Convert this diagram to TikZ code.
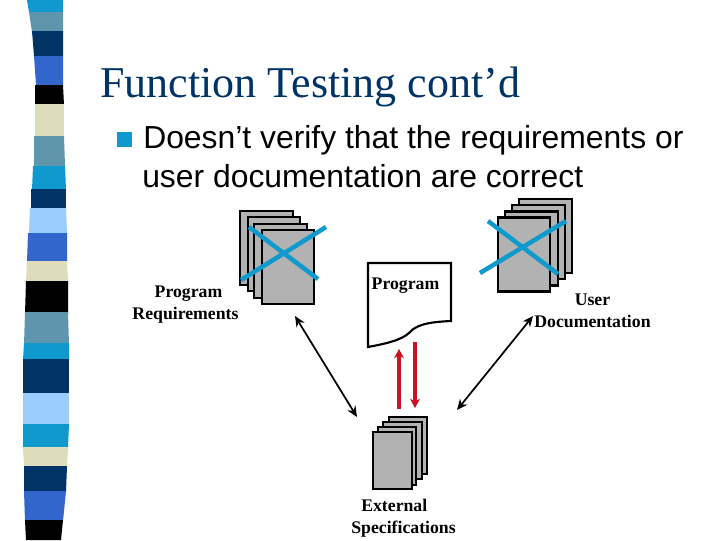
\documentclass[tikz,border=0pt]{standalone}
\usepackage{fontspec}
\setmainfont{Liberation Serif}
\newfontfamily\bodyfont{Liberation Sans}
\usetikzlibrary{arrows.meta,positioning,calc}
\definecolor{Navy}{HTML}{003366}
\definecolor{Cyan}{HTML}{0F99CC}
\definecolor{Steel}{HTML}{5F96AE}
\definecolor{Royal}{HTML}{3366CC}
\definecolor{Sky}{HTML}{99CCFF}
\definecolor{Beige}{HTML}{DDDDBB}
\definecolor{Paper}{HTML}{B2B2B2}
\definecolor{Alert}{HTML}{CC1122}
\tikzset{slide layout/.style={%
    x=0.75pt,
    y=-0.75pt,
    sheet/.style={%
        draw=black, fill=Paper, line width=1.6pt, inner sep=0pt,
        minimum width=39.5pt, minimum height=55.5pt
    },
    small sheet/.style={%
        sheet, minimum width=29pt, minimum height=43pt
    },
    crossbar/.style={%
        Cyan, line width=3.4pt
    },
    link/.style={%
        black, line width=1.3pt, {Stealth[width=7pt,length=8pt]}-{Stealth[width=7pt,length=8pt]}
    },
    check/.style={%
        Alert, line width=2.6pt, -{Stealth[width=7.5pt,length=7pt]}
    },
    caption/.style={%
        font=\bfseries\fontsize{13.3}{16.5}\selectfont, align=center, inner sep=0pt
    },
    bodyline/.style={%
        font=\bodyfont\fontsize{23.9}{28}\selectfont, anchor=base west, inner sep=0pt
    }
}}
\begin{document}
\begin{tikzpicture}[slide layout]
    \useasboundingbox (0,0) rectangle (720,540);

    % binding strip down the left edge
    \foreach \ya/\la/\ra/\yb/\lb/\rb/\shade in {%
        0/27/63/12/29/63/Cyan, 12/29/63/32/32/63/Steel, 31/32/63/56/34/63/Navy,
        56/34/63/85/36/63/Royal, 85/35/63/105/35/64/black, 104/35/64/137/35/64/Beige,
        136/34/64/166/34/65/Steel, 166/33/65/190/32/66/Cyan, 189/31/66/209/31/66/Navy,
        208/30/66/234/29/67/Sky, 233/28/67/262/27/67/Royal, 261/27/67/282/26/68/Beige,
        281/26/68/314/25/68/black, 312/25/68/345/24/69/Steel, 343/24/69/360/23/69/Cyan,
        359/23/69/396/23/69/Navy, 393/23/69/426/23/69/Sky, 424/23/69/448/23/68/Cyan,
        447/23/68/467/24/67/Beige, 466/24/67/492/24/66/Navy, 491/24/66/521/25/63/Royal,
        520/25/63/540/26/61/black} {
        \fill[\shade] (\la,\ya) -- (\ra,\ya) -- (\rb,\yb) -- (\lb,\yb) -- cycle;
    }

    \node (title) [anchor=base west, inner sep=0pt, text=Navy, font=\fontsize{33}{36}\selectfont] at (100,97) {Function Testing cont’d};
    \node (bullet) [fill=Cyan, inner sep=0pt, minimum size=11.2pt] at (124.5,139.5) {};
    \node (line1) [bodyline] at (143,148.5) {Doesn’t verify that the requirements or};
    \node (line2) [bodyline] at (142,187) {user documentation are correct};

    % three stacks of sheets
    \foreach \n/\x/\y in {1/266.5/248, 2/274/254, 3/280.5/261, 4/288/267} {
        \node (req\n) [sheet] at (\x,\y) {};
    }
    \foreach \n/\x/\y in {1/545.5/236, 2/538.5/242, 3/531.5/248.5, 4/524/254.5} {
        \node (doc\n) [sheet] at (\x,\y) {};
    }
    \foreach \n/\x/\y in {1/408/445.5, 2/402.5/450.5, 3/397/456, 4/392.5/460.5} {
        \node (spec\n) [small sheet] at (\x,\y) {};
    }

    % crossed out
    \coordinate (reqa) at (249,227);
    \coordinate (reqb) at (318,279);
    \coordinate (reqc) at (326,227);
    \coordinate (reqd) at (241,280);
    \coordinate (doca) at (488,221);
    \coordinate (docb) at (558,274);
    \coordinate (docc) at (566,221);
    \coordinate (docd) at (480,273);
    \draw[crossbar] (reqa) -- (reqb);
    \draw[crossbar] (reqc) -- (reqd);
    \draw[crossbar] (doca) -- (docb);
    \draw[crossbar] (docc) -- (docd);

    % program page
    \draw[black, line width=1.6pt, fill=white] (368,263) -- (451,263) -- (451,321)
        .. controls (430,322) and (420,324) .. (412,330)
        .. controls (405,338) and (395,342) .. (368,347) -- cycle;

    \node (program) [caption, anchor=base] at (405.5,289) {Program};
    \node (reqlabel) [caption] at (185.5,304.5) {\hspace*{4.5pt}Program\\Requirements};
    \node (doclabel) [caption] at (592.5,311) {User\\Documentation};
    \node (speclabel) [caption, align=left] at (403.5,518.5) {\hspace*{7.5pt}External\\Specifications};

    \coordinate (linka) at (295,316);
    \coordinate (linkb) at (357,417);
    \coordinate (linkc) at (533,316);
    \coordinate (linkd) at (457,410);
    \coordinate (upa) at (399,409);
    \coordinate (upb) at (399,349);
    \coordinate (downa) at (415,342);
    \coordinate (downb) at (415,408);
    \draw[link] (linka) -- (linkb);
    \draw[link] (linkc) -- (linkd);
    \draw[check] (upa) -- (upb);
    \draw[check] (downa) -- (downb);
\end{tikzpicture}
\end{document}
